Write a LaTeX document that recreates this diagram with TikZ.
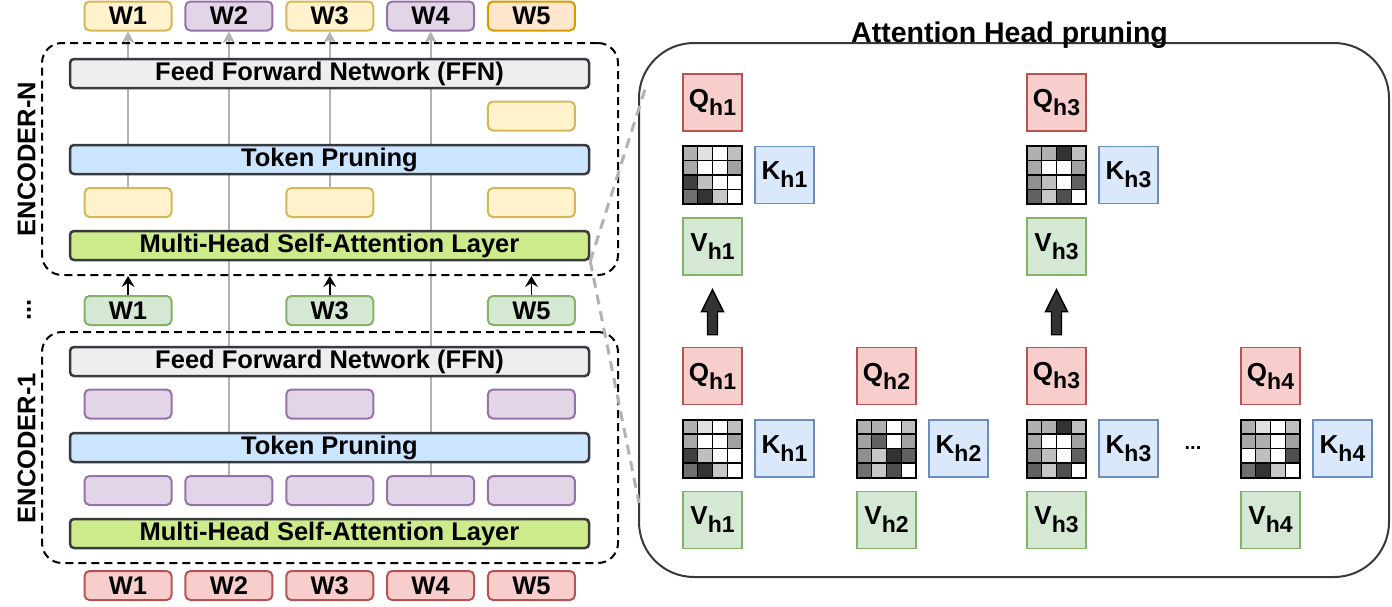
\documentclass[tikz,border=0pt]{standalone}
\usepackage{fontspec}
\setmainfont{Liberation Sans}
\usetikzlibrary{arrows.meta,calc,backgrounds}

\definecolor{ylwF}{HTML}{FFF2CC}\definecolor{ylwD}{HTML}{D6B656}
\definecolor{purF}{HTML}{E1D5E7}\definecolor{purD}{HTML}{9673A6}
\definecolor{orgF}{HTML}{FFE6CC}\definecolor{orgD}{HTML}{D79B00}
\definecolor{grnF}{HTML}{D5E8D4}\definecolor{grnD}{HTML}{82B366}
\definecolor{redF}{HTML}{F8CECC}\definecolor{redD}{HTML}{B85450}
\definecolor{bluF}{HTML}{DAE8FC}\definecolor{bluD}{HTML}{6C8EBF}
\definecolor{ffnF}{HTML}{EEEEEE}\definecolor{tpF}{HTML}{CCE5FF}
\definecolor{mhF}{HTML}{CDEB8B}\definecolor{darkln}{HTML}{36393D}

\newcommand\lblfont{\bfseries\fontsize{25.5}{30}\selectfont}
\newcommand\qkvfont{\bfseries\fontsize{26}{30}\selectfont}
\newcommand\hsub[1]{\raisebox{-8pt}{\fontsize{23}{25}\selectfont #1}}

\tikzset{
  tok/.style 2 args={draw=#1, fill=#2, rounded corners=5pt, line width=2pt,
    minimum width=87pt, minimum height=29pt, inner sep=0pt, font=\lblfont},
  layer/.style={draw=darkln, fill=#1, rounded corners=4pt, line width=2.5pt,
    minimum width=519pt, minimum height=29pt, inner sep=0pt, font=\lblfont},
  enc/.style={draw, dash pattern=on 8pt off 5pt, line width=2pt,
    rounded corners=20pt, minimum width=576pt, inner sep=0pt},
  qkv/.style 2 args={draw=#1, fill=#2, line width=1.5pt, minimum width=59pt,
    minimum height=57pt, inner sep=0pt, font=\qkvfont},
  flow/.style={draw=black!30, line width=2.2pt, -{Stealth[length=12pt,width=13pt]}},
  feed/.style={line width=1.5pt, -{Stealth[length=11pt,width=13pt,inset=4pt]}},
  zoomln/.style={draw=black!30, line width=3pt, dash pattern=on 10pt off 7pt},
  blockarr/.style={fill=black!80, draw=black, line width=1.4pt},
}

% attention map: #1 centre, #2 sixteen shades
\newcommand\attnmap[2]{%
  \foreach \s [count=\i from 0] in {#2} {
    \pgfmathtruncatemacro\cx{mod(\i,4)}
    \pgfmathtruncatemacro\cy{floor(\i/4)}
    \draw[line width=1.3pt, fill=black!\s]
      ($(#1)+(-29.5+14.75*\cx,-29+14.5*\cy)$) rectangle ++(14.75,14.5);
  }
  \draw[line width=2pt] ($(#1)+(-29.5,-29)$) rectangle ($(#1)+(29.5,29)$);
}
% one head: #1 name, #2 x, #3 y, #4 index, #5 shades
\newcommand\head[5]{%
  \node[qkv={redD}{redF}] (q#1) at (#2,#3-72.5) {Q\hsub{h#4}};
  \coordinate (m#1) at (#2,#3);
  \attnmap{m#1}{#5}
  \node[qkv={bluD}{bluF}] (k#1) at (#2+72,#3) {K\hsub{h#4}};
  \node[qkv={grnD}{grnF}] (v#1) at (#2,#3+71.5) {V\hsub{h#4}};
}

\begin{document}
\begin{tikzpicture}[x=1pt,y=-1pt]
\useasboundingbox (0,0) rectangle (1392,606);

% encoder stack
\node[enc, minimum height=232pt] (encN) at (330,159) {};
\node[enc, minimum height=231pt] (enc1) at (330,447.5) {};
\node[rotate=90, font=\lblfont] (lblN) at (26.5,159) {ENCODER-N};
\node[rotate=90, font=\lblfont] (lbl1) at (26.5,448) {ENCODER-1};
\node[rotate=90, font=\lblfont] (vdots) at (29,310) {...};

\node[layer=ffnF] (ffnN) at (329.5,73.5) {Feed Forward Network (FFN)};
\node[layer=tpF] (tpN) at (329.5,159.5) {Token Pruning};
\node[layer=mhF] (mhN) at (329.5,245.5) {Multi-Head Self-Attention Layer};
\node[layer=ffnF] (ffn1) at (329.5,361.5) {Feed Forward Network (FFN)};
\node[layer=tpF] (tp1) at (329.5,447.5) {Token Pruning};
\node[layer=mhF] (mh1) at (329.5,533.5) {Multi-Head Self-Attention Layer};

\foreach \i/\d/\f in {1/ylwD/ylwF,2/purD/purF,3/ylwD/ylwF,4/purD/purF,5/orgD/orgF}
  \node[tok={\d}{\f}] (wt\i) at (27.2+100.85*\i,16) {W\i};
\node[tok={ylwD}{ylwF}] (yk5) at (531.45,116) {};
\foreach \i in {1,3,5} {
  \node[tok={ylwD}{ylwF}] (ym\i) at (27.2+100.85*\i,202.5) {};
  \node[tok={grnD}{grnF}] (wg\i) at (27.2+100.85*\i,310.5) {W\i};
  \node[tok={purD}{purF}] (pk\i) at (27.2+100.85*\i,404) {};
}
\foreach \i in {1,...,5} {
  \node[tok={purD}{purF}] (pm\i) at (27.2+100.85*\i,490.5) {};
  \node[tok={redD}{redF}] (wb\i) at (27.2+100.85*\i,585.5) {W\i};
}

\begin{scope}[on background layer]
  \foreach \i in {1,3} \draw[flow] (ym\i.north) -- (wt\i.south);
  \foreach \i in {2,4} \draw[flow] (pm\i.north) -- (wt\i.south);
\end{scope}
\foreach \i in {1,3,5} \draw[feed] (wg\i.north) -- (wg\i.north |- encN.south);

% head pruning panel
\node[draw=darkln, line width=2pt, rounded corners=55pt, minimum width=750pt,
  minimum height=534pt] (panel) at (1014,310) {};
\node[anchor=base, font=\bfseries\fontsize{28.5}{32}\selectfont] (title)
  at (1009.5,42) {Attention Head pruning};

\coordinate (zu) at (647,83);
\coordinate (zl) at (639,503);
\draw[zoomln] (mhN.south east) -- (zu);
\draw[zoomln] (mhN.south east) -- (zl);

\head{A1}{712.5}{175}{1}{31,12,0,25,34,0,0,37,75,25,0,0,56,80,22,0}
\head{A3}{1056.5}{175}{3}{31,31,80,25,34,0,0,37,44,25,0,62,62,22,69,0}
\head{B1}{712.5}{448.5}{1}{31,12,0,25,34,0,0,37,75,25,0,0,56,80,22,0}
\head{B2}{886.5}{448.5}{2}{31,31,0,25,37,62,0,37,44,22,80,62,56,22,69,0}
\head{B3}{1056.5}{448.5}{3}{31,31,80,25,34,0,0,37,44,25,0,62,62,22,69,0}
\head{B4}{1270.5}{448.5}{4}{31,12,0,25,34,31,0,37,0,25,0,69,56,80,22,0}

\foreach \h in {1,3}
  \draw[blockarr] ($(vA\h.south)+(0,14)$) -- ++(11,22) -- ++(-6,0) -- ++(0,23)
    -- ++(-10,0) -- ++(0,-23) -- ++(-6,0) -- cycle;
\node[font=\bfseries\fontsize{20}{20}\selectfont] (hdots) at (1193,448) {...};
\end{tikzpicture}
\end{document}
